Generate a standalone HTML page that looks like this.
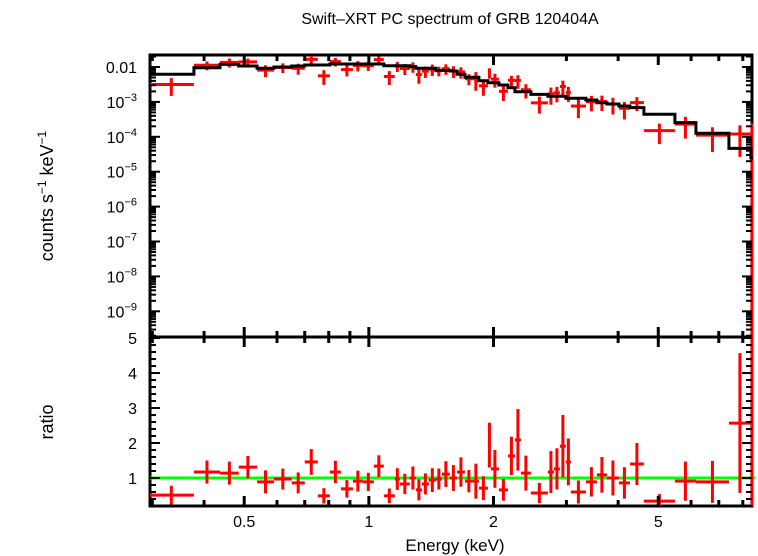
<!DOCTYPE html>
<html><head><meta charset="utf-8"><style>
body{margin:0;background:#fff;}
svg{display:block;font-family:"Liberation Sans",sans-serif;}
</style></head><body>
<svg id="chart" width="758" height="556" xmlns="http://www.w3.org/2000/svg">
<rect width="758" height="556" fill="#fff"/>
<text x="450" y="24" font-size="16" text-anchor="middle">Swift–XRT PC spectrum of GRB 120404A</text>
<text transform="translate(53,196) rotate(-90)" font-size="18" text-anchor="middle">counts s<tspan font-size="12" dy="-7">−1</tspan><tspan dy="7"> keV</tspan><tspan font-size="12" dy="-7">−1</tspan></text>
<text transform="translate(53,422) rotate(-90)" font-size="18" text-anchor="middle">ratio</text>
<text x="455" y="551" font-size="17" text-anchor="middle">Energy (keV)</text>
<g id="g"></g>
</svg>
<script>
// bin edges (keV)
const binLo = [0.294,0.378,0.437,0.485,0.537,0.590,0.651,0.700,0.753,0.805,0.856,0.915,0.967,1.028,1.087,1.155,1.188,1.256,1.299,1.343,1.396,1.451,1.501,1.569,1.632,1.706,1.783,1.844,1.939,1.971,2.061,2.167,2.253,2.329,2.462,2.706,2.799,2.893,2.991,3.075,3.344,3.554,3.758,4.017,4.270,4.616,5.484,6.165,7.406,8.370];
const binHi = [0.378,0.437,0.485,0.537,0.590,0.651,0.700,0.753,0.805,0.856,0.915,0.967,1.028,1.087,1.155,1.188,1.256,1.299,1.343,1.396,1.451,1.501,1.569,1.632,1.706,1.783,1.844,1.939,1.971,2.061,2.167,2.253,2.329,2.462,2.706,2.799,2.893,2.991,3.075,3.344,3.554,3.758,4.017,4.270,4.616,5.484,6.165,7.406,8.370,8.46];
// model (counts/s/keV)
const model = [6.18e-3,9.55e-3,1.19e-2,1.07e-2,9.18e-3,1.0e-2,1.07e-2,1.14e-2,1.14e-2,1.22e-2,1.22e-2,1.22e-2,1.22e-2,1.22e-2,1.09e-2,1.09e-2,1.09e-2,1.02e-2,9.18e-3,9.18e-3,9.18e-3,8.04e-3,8.04e-3,7.68e-3,6.18e-3,5.07e-3,5.07e-3,4.05e-3,3.55e-3,3.55e-3,3.05e-3,2.55e-3,1.96e-3,1.96e-3,1.65e-3,1.45e-3,1.45e-3,1.45e-3,1.27e-3,1.27e-3,1.13e-3,9.48e-4,8.7e-4,7.64e-4,6.83e-4,4.42e-4,2.54e-4,1.26e-4,4.68e-5,2.47e-5];
// data counts
const counts = [3.15e-3,1.12e-2,1.36e-2,1.40e-2,8.17e-3,9.7e-3,9.2e-3,1.66e-2,5.59e-3,1.43e-2,8.42e-3,1.11e-2,1.09e-2,1.63e-2,5.34e-3,1.06e-2,9.05e-3,1.02e-2,6.06e-3,7.62e-3,8.63e-3,7.80e-3,8.92e-3,7.68e-3,7.23e-3,4.61e-3,4.61e-3,2.88e-3,6.89e-3,4.47e-3,2.01e-3,4.16e-3,4.10e-3,2.23e-3,9.4e-4,1.70e-3,1.83e-3,2.77e-3,1.85e-3,7.6e-4,1.01e-3,1.03e-3,8.7e-4,6.57e-4,9.56e-4,1.50e-4,2.31e-4,1.12e-4,1.20e-4,1.21e-4];
// ratio and its error
const ratio = [0.51,1.17,1.14,1.31,0.89,0.97,0.86,1.46,0.49,1.17,0.69,0.91,0.89,1.34,0.49,0.97,0.83,1.0,0.66,0.83,0.94,0.97,1.11,1.0,1.17,0.91,0.91,0.71,1.94,1.26,0.66,1.63,2.09,1.14,0.57,1.17,1.26,1.91,1.46,0.6,0.89,1.09,1.0,0.86,1.4,0.34,0.91,0.89,2.57,4.9];
const ratioErr = [0.27,0.33,0.33,0.32,0.33,0.30,0.30,0.37,0.22,0.32,0.25,0.30,0.26,0.31,0.21,0.31,0.29,0.33,0.30,0.30,0.34,0.30,0.37,0.37,0.42,0.32,0.5,0.34,0.64,0.54,0.31,0.55,0.88,0.5,0.29,0.6,0.59,0.89,0.67,0.33,0.42,0.51,0.5,0.45,0.6,0.2,0.56,0.6,2.0,5.0];
const xMajor = [0.5,1,2,5];
const xMajorLabels = ["0.5","1","2","5"];
const xMinor = [0.3,0.4,0.6,0.7,0.8,0.9,3,4,6,7,8];
const yExp = [-2,-3,-4,-5,-6,-7,-8,-9];
const rMajor = [1,2,3,4,5];

const L=150,R=752,T=55,M=337,B=506;
const xmin=0.2961,xmax=8.42;
const yTopLog=-1.656,yBotLog=-9.736;
const rTop=5.03,rBot=0.2;
const X=e=>L+(Math.log10(e)-Math.log10(xmin))/(Math.log10(xmax)-Math.log10(xmin))*(R-L);
const Y=v=>T+(yTopLog-Math.log10(v))/(yTopLog-yBotLog)*(M-T);
const YR=r=>M+(rTop-r)/(rTop-rBot)*(B-M);
const NS="http://www.w3.org/2000/svg";
const g=document.getElementById('g');
function mk(tag,a,name,parent){const e=document.createElementNS(NS,tag);for(const k in a)e.setAttribute(k,a[k]);


(parent||g).appendChild(e);return e;}
function line(x1,y1,x2,y2,c,w,name,p){return mk('line',{x1,y1,x2,y2,stroke:c,'stroke-width':w},name,p);}

// frames first
mk('rect',{x:L,y:T,width:R-L,height:M-T,fill:'none',stroke:'#000','stroke-width':3},'upper-frame');
mk('rect',{x:L,y:M,width:R-L,height:B-M,fill:'none',stroke:'#000','stroke-width':3},'ratio-frame');

const clip=mk('clipPath',{id:'cu'},'clip-upper');mk('rect',{x:L,y:T,width:R-L+3,height:M-T},'clip-rect',clip);
const clip2=mk('clipPath',{id:'cl'},'clip-lower');mk('rect',{x:L,y:M,width:R-L+3,height:B-M},'clip-rect',clip2);
const up=mk('g',{'clip-path':'url(#cu)'},'upper-panel');
const lo=mk('g',{'clip-path':'url(#cl)'},'ratio-panel');

// ratio=1 line
line(L,YR(1),R+4,YR(1),'#00ff00',3,'unity-line',lo);

// data
for(let i=0;i<counts.length;i++){
  const x1=X(binLo[i]),x2=X(binHi[i]),xc=Math.min((x1+x2)/2,R+0.5);
  const c=counts[i],ce=c*ratioErr[i]/ratio[i];
  const yl=c-ce>0?Y(c-ce):M+5;
  line(x1,Y(c),x2,Y(c),'#ff0000',3,'data-xerr',up);
  line(xc,Y(c+ce),xc,yl,'#ff0000',3,'data-yerr',up);
  const r=ratio[i],re=ratioErr[i];
  line(x1,YR(r),x2,YR(r),'#ff0000',3,'ratio-xerr',lo);
  line(xc,YR(r+re),xc,YR(Math.max(r-re,0)),'#ff0000',3,'ratio-yerr',lo);
}
// model step
let d='';
for(let i=0;i<model.length;i++){const y=Y(model[i]);d+=(i?'L':'M')+X(binLo[i])+' '+y+'L'+X(binHi[i])+' '+y;}
mk('path',{d,fill:'none',stroke:'#000','stroke-width':3},'model-line',up);

// x ticks
[T,M,B].forEach(yb=>{
  xMajor.forEach(v=>{const x=X(v);
    if(yb!==B)line(x,yb,x,yb+10,'#000',3,'x-major-tick');
    if(yb!==T)line(x,yb,x,yb-10,'#000',3,'x-major-tick');});
  xMinor.forEach(v=>{const x=X(v);
    if(yb!==B)line(x,yb,x,yb+6,'#000',3,'x-minor-tick');
    if(yb!==T)line(x,yb,x,yb-6,'#000',3,'x-minor-tick');});
});
xMajor.forEach((v,i)=>{const t=mk('text',{x:X(v),y:527,'font-size':16,'text-anchor':'middle'},'x-tick-label');t.textContent=xMajorLabels[i];});

// upper y ticks
for(let e=-10;e<=-2;e++){
  for(let m=1;m<10;m++){const v=m*Math.pow(10,e);const y=Y(v);if(y<T||y>M)continue;
    const len=m===1?10:6;
    line(L,y,L+len,y,'#000',2,m===1?'y-major-tick':'y-minor-tick');
    line(R,y,R-len,y,'#000',2,m===1?'y-major-tick':'y-minor-tick');}
}
yExp.forEach(e=>{const y=Y(Math.pow(10,e));
  const t=mk('text',{x:137,y:y+6,'font-size':16,'text-anchor':'end'},'y-tick-label');
  if(e===-2)t.textContent='0.01';
  else{t.textContent='10';const s=document.createElementNS(NS,'tspan');s.setAttribute('font-size','11');s.setAttribute('dy','-7');s.textContent='−'+(-e);t.appendChild(s);}
});
// ratio y ticks
for(let k=1;k<=25;k++){const r=k*0.2;const y=YR(r);if(y<M||y>B)continue;
  const maj=Math.abs(r-Math.round(r))<1e-6;const len=maj?10:6;
  line(L,y,L+len,y,'#000',2,maj?'ratio-major-tick':'ratio-minor-tick');
  line(R,y,R-len,y,'#000',2,maj?'ratio-major-tick':'ratio-minor-tick');}
rMajor.forEach(r=>{const t=mk('text',{x:137,y:YR(r)+6,'font-size':16,'text-anchor':'end'},'ratio-tick-label');t.textContent=String(r);});
</script>
</body></html>
